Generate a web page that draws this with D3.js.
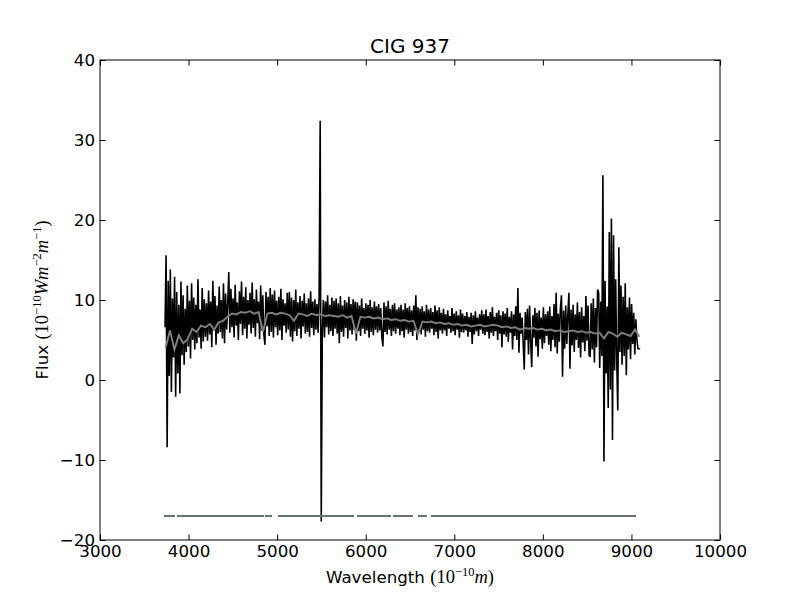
<!DOCTYPE html>
<html>
<head>
<meta charset="utf-8">
<script src="https://cdn.jsdelivr.net/npm/d3@7"></script>
<style>
  body { margin: 0; background: #fff; }
  text { font-family: "DejaVu Sans", sans-serif; }
</style>
</head>
<body>
<div id="chart-area"></div>
<script>
// Observed spectrum (black), sampled every 12 A from 3734 A
var fluxStart = 3734, fluxStep = 12;
var flux = [
  6.6, 15.6, -8.4, 12.4, 0.5, 13.8, -1.5, 10.2, 2.8, 12.9, -2.1, 11.0, 0.8, 9.4, -1.7, 12.3, 3.1, 10.6, 1.9, 8.9,
  3.5, 11.8, 4.2, 9.9, 2.7, 12.1, 5.0, 10.3, 3.8, 9.4, 4.6, 12.6, 5.3, 8.8, 3.9, 11.5, 4.8, 10.1, 5.4, 9.6,
  4.9, 11.2, 5.7, 9.8, 4.1, 12.4, 6.2, 10.5, 4.4, 9.3, 5.8, 11.7, 6.0, 10.0, 5.2, 12.1, 4.6, 10.8, 6.3, 9.5,
  13.5, 5.9, 11.4, 6.6, 10.2, 5.3, 11.9, 6.8, 9.7, 5.0, 11.1, 7.0, 12.3, 5.6, 10.4, 6.4, 11.6, 5.2, 10.0, 6.9,
  10.9, 5.8, 12.2, 6.5, 10.1, 5.4, 11.3, 7.1, 9.8, 5.1, 11.8, 6.2, 10.6, 5.7, 4.4, 11.0, 6.7, 10.4, 5.5, 11.5,
  6.0, 10.7, 5.3, 11.2, 6.6, 9.9, 5.6, 10.4, 6.2, 11.4, 5.0, 10.1, 6.8, 9.6, 5.9, 10.9, 6.3, 11.0, 5.4, 10.3,
  4.8, 10.0, 6.1, 11.3, 5.5, 9.7, 6.4, 10.5, 5.2, 9.9, 6.7, 10.8, 5.8, 9.6, 6.0, 10.2, 5.4, 11.1, 6.5, 9.8,
  5.6, 10.1, 6.3, 9.5, 5.9, 10.4, 32.4, -17.7, 6.2, 10.0, 5.3, 9.8, 6.6, 10.6, 5.7, 9.4, 6.1, 10.3, 5.5, 9.9,
  6.4, 10.2, 5.8, 9.6, 4.6, 10.5, 6.0, 9.3, 5.4, 10.0, 6.5, 9.7, 5.2, 10.4, 6.2, 9.5, 5.7, 10.1, 6.3, 9.8,
  4.9, 9.7, 6.1, 9.3, 5.5, 10.2, 6.4, 9.0, 5.8, 9.6, 6.2, 9.4, 5.3, 10.0, 6.0, 9.1, 5.6, 9.8, 6.3, 9.2,
  5.9, 9.5, 6.2, 9.0, 5.4, 4.2, 9.7, 6.0, 9.2, 5.7, 9.9, 6.3, 8.9, 5.5, 9.4, 6.1, 9.6, 5.8, 8.8, 6.4,
  9.1, 5.6, 9.4, 6.1, 8.8, 5.3, 9.6, 6.3, 9.0, 5.8, 9.2, 6.0, 8.7, 5.5, 9.3, 6.2, 10.6, 5.0, 9.1, 6.0,
  8.9, 5.7, 9.2, 6.3, 8.6, 5.4, 9.4, 6.1, 8.8, 5.9, 9.0, 6.4, 8.5, 5.6, 9.3, 6.0, 8.7, 5.2, 9.1, 6.2,
  8.4, 5.8, 8.9, 6.2, 8.2, 5.5, 8.7, 6.4, 8.0, 5.9, 9.0, 6.1, 8.3, 5.6, 8.6, 6.3, 8.1, 5.3, 8.8, 6.0,
  8.3, 5.9, 8.0, 6.2, 8.5, 5.4, 7.9, 6.0, 8.4, 4.5, 8.1, 5.7, 8.6, 6.1, 7.8, 5.5, 8.2, 6.3, 8.7, 5.8,
  8.2, 5.6, 8.8, 6.0, 8.0, 5.2, 8.5, 5.9, 9.1, 5.5, 7.9, 6.1, 8.4, 5.0, 8.7, 5.8, 8.1, 4.1, 8.6, 5.7,
  8.3, 5.4, 9.0, 4.8, 7.9, 5.9, 8.6, 3.8, 8.2, 5.5, 9.2, 5.0, 11.5, 3.4, 8.4, 5.8, 7.8, 4.6, 1.3, 8.5,
  5.0, 8.9, 3.2, 9.3, 4.8, 1.6, 8.1, 5.3, 9.0, 4.2, 8.4, 2.9, 8.7, 5.1, 7.8, 3.9, 9.1, 4.6, 8.2, 5.5,
  8.6, 4.4, 9.2, 3.6, 8.0, 5.0, 9.5, 4.1, 10.9, 3.3, 8.3, 4.8, 9.0, 10.6, 0.4, 8.7, 3.9, 9.3, 4.5, 8.1,
  10.9, 1.4, 8.8, 4.3, 9.4, 3.5, 8.2, 5.0, 9.7, 4.0, 8.5, 2.8, 9.1, 4.7, 8.0, 3.6, 10.5, 4.9, 9.3, 3.1,
  2.9, 9.6, 3.8, 10.2, 2.2, 9.0, 4.1, 11.3, 10.9, 1.5, 9.8, 3.0, 25.6, -10.2, 12.4, 0.8, 9.2, -3.5, 18.5, -1.2,
  20.2, -7.5, 18.1, 1.2, 12.6, 2.4, -3.8, 16.6, 3.5, 11.8, 1.9, 10.4, 3.0, 12.1, 0.6, 9.1, 3.8, 10.3, 2.6, 9.5,
  4.5, 8.4, 3.2, 7.6, 5.0, 3.9, 3.9, 3.9
];

// Smoothed spectrum (grey), every 50 A from 3740 A
var smoothStart = 3740, smoothStep = 50;
var smooth = [
  4.0, 6.2, 3.8, 5.6, 4.6, 5.1, 6.4, 6.0, 6.8, 6.6,
  7.0, 6.3, 7.2, 7.4, 7.9, 8.3, 8.2, 8.5, 8.4, 8.6,
  8.3, 8.5, 6.0, 8.3, 8.4, 8.2, 8.4, 8.3, 8.1, 7.4,
  8.3, 8.2, 8.0, 8.3, 8.1, 8.2, 8.0, 8.1, 8.0, 7.9,
  8.1, 7.8, 8.0, 5.8, 7.9, 7.8, 7.9, 7.7, 7.8, 7.6,
  7.7, 7.5, 7.6, 7.4, 7.5, 7.3, 7.4, 5.7, 7.3, 7.2,
  7.3, 7.1, 7.2, 7.0, 7.1, 6.9, 7.0, 6.8, 6.9, 6.7,
  6.8, 6.9, 6.7, 6.8, 6.9, 6.8, 6.6, 6.7, 6.5, 6.6,
  6.3, 6.5, 6.4, 6.5, 6.3, 6.4, 6.2, 6.3, 6.1, 6.2,
  6.0, 6.1, 6.2, 6.0, 6.1, 5.9, 6.0, 5.8, 5.9, 5.2,
  6.0, 5.8, 5.4, 5.9, 5.7, 5.5, 6.3, 5.4
];

// Mask segments drawn at the bottom
var maskLevel = -17;
var maskFrom = [3722, 3869, 4863, 5010, 5902, 6308, 6590, 6737];
var maskTo   = [3847, 4852, 4942, 5868, 6285, 6533, 6692, 9052];

var xTicks = [3000, 4000, 5000, 6000, 7000, 8000, 9000, 10000];
var yTicks = [-20, -10, 0, 10, 20, 30, 40];

var margin = { left: 100, right: 80, top: 60, bottom: 60 };
var width = 800 - margin.left - margin.right,
    height = 600 - margin.top - margin.bottom;

var svg = d3.select('#chart-area')
  .append('svg')
    .attr('width', 800)
    .attr('height', 600);

var g = svg.append('g')
  .attr('transform', 'translate(' + margin.left + ',' + margin.top + ')');

var x = d3.scaleLinear().domain([3000, 10000]).range([0, width]);
var y = d3.scaleLinear().domain([-20, 40]).range([height, 0]);

var fluxData = flux.map(function(v, i) { return { w: fluxStart + i * fluxStep, f: v }; });
var smoothData = smooth.map(function(v, i) { return { w: smoothStart + i * smoothStep, f: v }; });
var maskData = maskFrom.map(function(a, i) { return [a, maskTo[i]]; });

var line = d3.line()
  .x(function(d) { return x(d.w); })
  .y(function(d) { return y(d.f); });

g.append('path')
  .datum(fluxData)
  .attr('fill', 'none')
  .attr('stroke', '#000')
  .attr('stroke-width', 1.6)
  .attr('stroke-linejoin', 'bevel')
  .attr('d', line);

g.append('path')
  .datum(smoothData)
  .attr('fill', 'none')
  .attr('stroke', '#7f7f7f')
  .attr('stroke-width', 1.9)
  .attr('d', line);

g.selectAll('.mask')
  .data(maskData)
  .enter().append('line')
    .attr('class', 'mask')
    .attr('x1', function(d) { return x(d[0]); })
    .attr('x2', function(d) { return x(d[1]); })
    .attr('y1', y(maskLevel))
    .attr('y2', y(maskLevel))
    .attr('stroke', '#66737b')
    .attr('stroke-width', 2);

// Axes, ticks pointing inward on all four sides
function styleAxis(sel) {
  sel.select('.domain').remove();
  sel.selectAll('text')
    .attr('font-size', '16.7px')
    .attr('fill', '#000')
    .attr('font-family', 'DejaVu Sans');
  sel.selectAll('line').attr('stroke', '#000');
}

g.append('g')
  .attr('transform', 'translate(0,' + height + ')')
  .call(d3.axisBottom(x).tickValues(xTicks).tickSize(-5.6).tickPadding(5.5).tickFormat(d3.format('d')))
  .call(styleAxis);

g.append('g')
  .call(d3.axisTop(x).tickValues(xTicks).tickSize(-5.6).tickFormat(''))
  .call(styleAxis);

g.append('g')
  .call(d3.axisLeft(y).tickValues(yTicks).tickSize(-5.6).tickPadding(5))
  .call(styleAxis);

g.append('g')
  .attr('transform', 'translate(' + width + ',0)')
  .call(d3.axisRight(y).tickValues(yTicks).tickSize(-5.6).tickFormat(''))
  .call(styleAxis);

g.append('rect')
  .attr('width', width)
  .attr('height', height)
  .attr('fill', 'none')
  .attr('stroke', '#000')
  .attr('stroke-width', 1);

// Title
g.append('text')
  .attr('x', width / 2)
  .attr('y', -7)
  .attr('text-anchor', 'middle')
  .attr('font-size', '20px')
  .text('CIG 937');

// Labels with math parts
function richText(sel, parts) {
  parts.forEach(function(p) {
    var ts = sel.append('tspan').text(p.t);
    if (p.math) ts.attr('font-family', 'Liberation Serif').attr('font-size', '18.5px');
    if (p.it) ts.attr('font-style', 'italic');
    if (p.sup) ts.attr('font-size', '12.5px').attr('dy', -7);
    if (p.down) ts.attr('dy', 7);
  });
}

var xLabel = g.append('text')
  .attr('x', width / 2)
  .attr('y', height + 43)
  .attr('text-anchor', 'middle')
  .attr('font-size', '16.7px');
richText(xLabel, [
  { t: 'Wavelength ' },
  { t: '(10', math: true },
  { t: '\u221210', math: true, sup: true },
  { t: 'm', math: true, it: true, down: true },
  { t: ')', math: true }
]);

var yLabel = g.append('text')
  .attr('x', -height / 2)
  .attr('y', -52)
  .attr('transform', 'rotate(-90)')
  .attr('text-anchor', 'middle')
  .attr('font-size', '16.7px');
richText(yLabel, [
  { t: 'Flux ' },
  { t: '(10', math: true },
  { t: '\u221210', math: true, sup: true },
  { t: 'Wm', math: true, it: true, down: true },
  { t: '\u22122', math: true, sup: true },
  { t: 'm', math: true, it: true, down: true },
  { t: '\u22121', math: true, sup: true },
  { t: ')', math: true, down: true }
]);
</script>
</body>
</html>
